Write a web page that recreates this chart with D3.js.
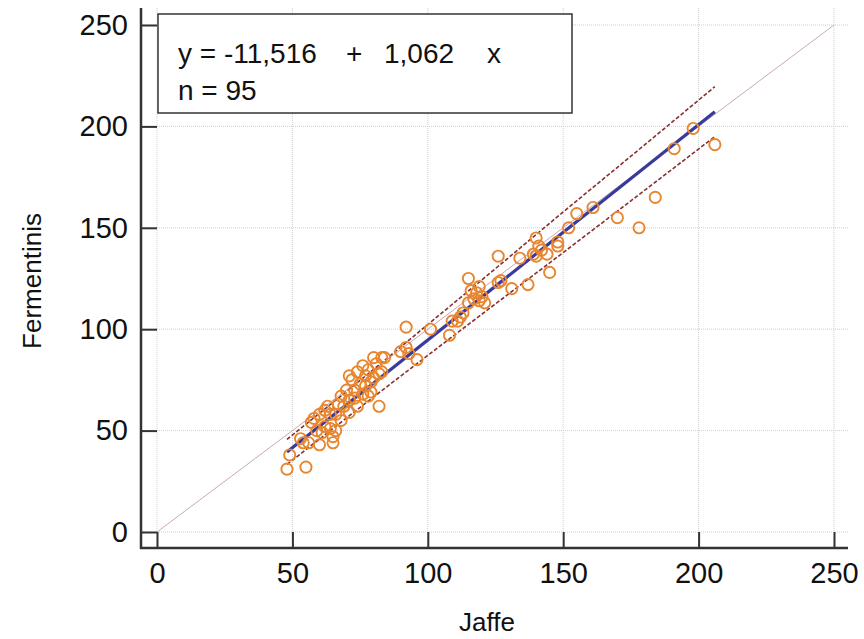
<!DOCTYPE html>
<html>
<head>
<meta charset="utf-8">
<script src="https://cdn.jsdelivr.net/npm/d3@7"></script>
<style>
  html, body { margin: 0; padding: 0; background: #fff; }
  svg { display: block; font-family: "Liberation Sans", Arial, sans-serif; }
</style>
</head>
<body>
<svg id="chart" width="864" height="639"></svg>
<script>
// ---- data ----
const jaffe = [48,49,55,53,56,60,65,65,66,58,60,62,64,63,67,68,54,57,61,64,
  71,71,73,76,78,72,71,74,76,77,80,83,82,79,82,69,70,75,78,80,81,73,77,84,66,68,62,59,74,79,
  83,92,92,93,96,101,108,109,112,113,115,115,117,118,119,119,120,121,116,111,90,
  126,126,127,131,134,137,140,140,141,142,144,145,148,148,152,155,161,139,
  170,178,184,191,198,206];
const fermentinis = [31,38,32,46,44,43,44,47,50,56,58,60,58,62,63,67,44,54,49,51,
  65,59,70,68,67,75,77,79,82,77,86,86,78,69,62,62,70,73,80,76,83,66,72,86,58,55,52,50,62,74,
  79,101,91,88,85,100,97,104,106,108,113,125,115,118,121,114,116,113,119,104,89,
  136,123,124,120,135,122,136,145,141,139,137,128,143,141,150,157,160,137,
  155,150,165,189,199,191];
const intercept = -11.516;
const slope = 1.062;
const n = 95;
const fitRange = [48, 206];
const bandX = [48, 80, 100, 125, 150, 175, 206];
const bandUpper = [45.7, 80.2, 102.3, 129.9, 157.8, 185.3, 219.6];
const bandLower = [33.3, 66.6, 87.1, 112.5, 137.8, 163.3, 195.0];
const ticks = [0, 50, 100, 150, 200, 250];
const xTitle = "Jaffe";
const yTitle = "Fermentinis";
const eqParts = ["y = -11,516", "+", "1,062", "x"];
const nText = "n = " + n;

// ---- layout ----
const svg = d3.select("#chart");
const x = d3.scaleLinear().domain([0, 250]).range([157, 834]);
const y = d3.scaleLinear().domain([0, 250]).range([532, 25]);
const axX = 141, axY = 548, axTop = 8, axRight = 848;

// grid
const grid = svg.append("g").attr("stroke", "#cfcfcf").attr("stroke-width", 1).attr("stroke-dasharray", "1,1");
grid.selectAll(".gh").data(ticks).join("line")
  .attr("x1", axX).attr("x2", axRight).attr("y1", d => y(d)).attr("y2", d => y(d));
grid.selectAll(".gv").data(ticks).join("line")
  .attr("y1", axTop).attr("y2", axY).attr("x1", d => x(d)).attr("x2", d => x(d));

// identity line
svg.append("line")
  .attr("x1", x(0)).attr("y1", y(0)).attr("x2", x(250)).attr("y2", y(250))
  .attr("stroke", "#c9a9b3").attr("stroke-width", 1);

// confidence band lines
const bandLine = (arr) => d3.line().x((d, i) => x(bandX[i])).y((d, i) => y(arr[i])).curve(d3.curveMonotoneX)(arr);
[bandUpper, bandLower].forEach(arr => {
  svg.append("path").attr("d", bandLine(arr)).attr("fill", "none")
    .attr("stroke", "#8a2f2f").attr("stroke-width", 1.6).attr("stroke-dasharray", "4,2");
});

// regression line
svg.append("line")
  .attr("x1", x(fitRange[0])).attr("y1", y(intercept + slope * fitRange[0]))
  .attr("x2", x(fitRange[1])).attr("y2", y(intercept + slope * fitRange[1]))
  .attr("stroke", "#3a3a9c").attr("stroke-width", 3.2);

// points
svg.append("g").selectAll("circle").data(jaffe).join("circle")
  .attr("cx", d => x(d)).attr("cy", (d, i) => y(fermentinis[i]))
  .attr("r", 5.6).attr("fill", "none").attr("stroke", "#e8862f").attr("stroke-width", 1.9);

// axes
const yAxis = d3.axisLeft(y).tickValues(ticks).tickSizeInner(-16).tickSizeOuter(0).tickPadding(13);
const gy = svg.append("g").attr("transform", `translate(${axX},0)`).call(yAxis);
const xAxis = d3.axisBottom(x).tickValues(ticks).tickSizeInner(-16).tickSizeOuter(0).tickPadding(14);
const gx = svg.append("g").attr("transform", `translate(0,${axY})`).call(xAxis);
[gx, gy].forEach(g => {
  g.select(".domain").remove();
  g.selectAll(".tick line").attr("stroke", "#333").attr("stroke-width", 2);
  g.selectAll(".tick text").attr("fill", "#111").style("font-size", "29px")
    .style("font-family", "'Liberation Sans', Arial, sans-serif");
});
svg.append("line").attr("x1", axX).attr("x2", axX).attr("y1", axTop).attr("y2", axY + 1)
  .attr("stroke", "#333").attr("stroke-width", 2.5);
svg.append("line").attr("x1", axX - 1).attr("x2", axRight).attr("y1", axY).attr("y2", axY)
  .attr("stroke", "#333").attr("stroke-width", 2.5);

// titles
svg.append("text").attr("x", 487).attr("y", 631).attr("text-anchor", "middle")
  .style("font-size", "26px").attr("fill", "#111").text(xTitle);
svg.append("text").attr("transform", "translate(41,281) rotate(-90)").attr("text-anchor", "middle")
  .style("font-size", "26px").attr("fill", "#111").text(yTitle);

// legend box
svg.append("rect").attr("x", 158).attr("y", 14).attr("width", 414).attr("height", 99)
  .attr("fill", "#fff").attr("stroke", "#333").attr("stroke-width", 1.5);
const eqX = [178, 346, 384, 487];
const eq = svg.append("text").attr("y", 63).style("font-size", "28px").attr("fill", "#111");
eq.selectAll("tspan").data(eqParts).join("tspan").attr("x", (d, i) => eqX[i]).text(d => d);
svg.append("text").attr("x", 178).attr("y", 100).style("font-size", "28px").attr("fill", "#111").text(nText);
</script>
</body>
</html>
